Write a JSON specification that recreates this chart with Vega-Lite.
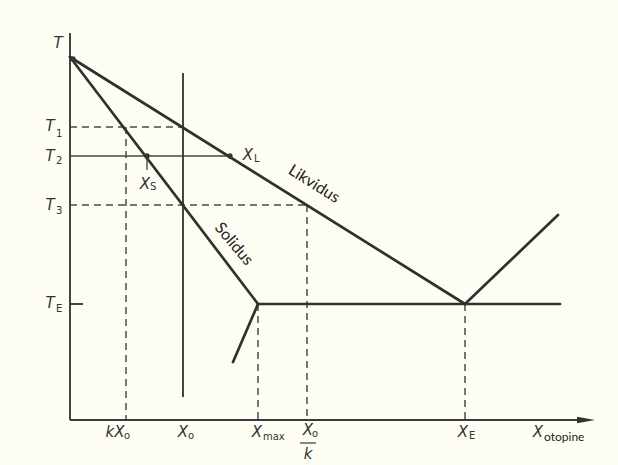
{
  "$schema": "https://vega.github.io/schema/vega-lite/v6.json",
  "width": 525,
  "height": 387,
  "autosize": {"type": "none"},
  "padding": {"left": 70, "top": 33, "right": 23, "bottom": 45},
  "background": "#fdfdf4",
  "config": {"view": {"stroke": null}},
  "datasets": {
    "segs": [
      {"kind": "thick", "x": 0, "y": 363, "x2": 395, "y2": 116},
      {"kind": "thick", "x": 0, "y": 363, "x2": 188, "y2": 116},
      {"kind": "thick", "x": 188, "y": 116, "x2": 490, "y2": 116},
      {"kind": "thick", "x": 395, "y": 116, "x2": 488, "y2": 205},
      {"kind": "thick", "x": 188, "y": 116, "x2": 163, "y2": 58},
      {"kind": "medium", "x": 113, "y": 347, "x2": 113, "y2": 23},
      {"kind": "medium", "x": 0, "y": 387, "x2": 0, "y2": 0},
      {"kind": "medium", "x": 0, "y": 0, "x2": 512, "y2": 0},
      {"kind": "thin", "x": 0, "y": 264, "x2": 160, "y2": 264},
      {"kind": "thin", "x": 77, "y": 264, "x2": 77, "y2": 250},
      {"kind": "medium", "x": 0, "y": 116, "x2": 13, "y2": 116},
      {"kind": "thin", "x": 230, "y": -23, "x2": 246, "y2": -23},
      {"kind": "dash", "x": 0, "y": 293, "x2": 113, "y2": 293},
      {"kind": "dash", "x": 0, "y": 215, "x2": 237, "y2": 215},
      {"kind": "dash", "x": 56, "y": 293, "x2": 56, "y2": 0},
      {"kind": "dash", "x": 188, "y": 116, "x2": 188, "y2": 0},
      {"kind": "dash", "x": 237, "y": 215, "x2": 237, "y2": 0},
      {"kind": "dash", "x": 395, "y": 116, "x2": 395, "y2": 0}
    ],
    "dots": [
      {"x": 160, "y": 264},
      {"x": 77, "y": 264},
      {"x": 3, "y": 361}
    ],
    "arrow": [{"x": 516, "y": 0}],
    "labels": [
      {"role": "main", "x": -12, "y": 377, "text": "T"},
      {"role": "main", "x": -20, "y": 294, "text": "T"},
      {"role": "main", "x": -20, "y": 264, "text": "T"},
      {"role": "main", "x": -20, "y": 215, "text": "T"},
      {"role": "main", "x": -20, "y": 117, "text": "T"},
      {"role": "main", "x": 45, "y": -12, "text": "kX"},
      {"role": "main", "x": 113, "y": -12, "text": "X"},
      {"role": "main", "x": 187, "y": -12, "text": "X"},
      {"role": "main", "x": 238, "y": -10, "text": "X"},
      {"role": "main", "x": 238, "y": -34, "text": "k"},
      {"role": "main", "x": 393, "y": -12, "text": "X"},
      {"role": "main", "x": 468, "y": -12, "text": "X"},
      {"role": "main", "x": 178, "y": 265, "text": "X"},
      {"role": "main", "x": 75, "y": 236, "text": "X"},
      {"role": "sub", "x": -14, "y": 286, "text": "1"},
      {"role": "sub", "x": -14, "y": 259, "text": "2"},
      {"role": "sub", "x": -14, "y": 209, "text": "3"},
      {"role": "sub", "x": -14, "y": 111, "text": "E"},
      {"role": "sub", "x": 54, "y": -16, "text": "o"},
      {"role": "sub", "x": 118, "y": -16, "text": "o"},
      {"role": "sub", "x": 193, "y": -17, "text": "max"},
      {"role": "sub", "x": 242, "y": -14, "text": "o"},
      {"role": "sub", "x": 399, "y": -16, "text": "E"},
      {"role": "sub", "x": 184, "y": 261, "text": "L"},
      {"role": "sub", "x": 80, "y": 233, "text": "S"},
      {"role": "plain", "x": 474, "y": -17, "text": "otopine"},
      {"role": "liq", "x": 244, "y": 236, "text": "Likvidus"},
      {"role": "sol", "x": 164, "y": 176, "text": "Solidus"}
    ]
  },
  "encoding": {
    "x": {"field": "x", "type": "quantitative", "scale": {"domain": [0, 525], "nice": false, "zero": false}, "axis": null},
    "y": {"field": "y", "type": "quantitative", "scale": {"domain": [0, 387], "nice": false, "zero": false}, "axis": null}
  },
  "layer": [
    {
      "data": {"name": "segs"},
      "transform": [{"filter": "datum.kind === 'dash'"}],
      "mark": {"type": "rule", "color": "#4a4a4a", "strokeWidth": 1.5, "strokeDash": [7, 5]},
      "encoding": {"x2": {"field": "x2"}, "y2": {"field": "y2"}}
    },
    {
      "data": {"name": "segs"},
      "transform": [{"filter": "datum.kind === 'thin'"}],
      "mark": {"type": "rule", "color": "#444444", "strokeWidth": 1.3},
      "encoding": {"x2": {"field": "x2"}, "y2": {"field": "y2"}}
    },
    {
      "data": {"name": "segs"},
      "transform": [{"filter": "datum.kind === 'medium'"}],
      "mark": {"type": "rule", "color": "#3a3a3a", "strokeWidth": 1.9},
      "encoding": {"x2": {"field": "x2"}, "y2": {"field": "y2"}}
    },
    {
      "data": {"name": "segs"},
      "transform": [{"filter": "datum.kind === 'thick'"}],
      "mark": {"type": "rule", "color": "#303030", "strokeWidth": 2.7, "strokeCap": "round"},
      "encoding": {"x2": {"field": "x2"}, "y2": {"field": "y2"}}
    },
    {
      "data": {"name": "dots"},
      "mark": {"type": "point", "filled": true, "color": "#333333", "size": 28, "opacity": 1}
    },
    {
      "data": {"name": "arrow"},
      "mark": {"type": "point", "filled": true, "color": "#333333", "opacity": 1, "size": 324, "shape": "M-1,-0.36L1,0L-1,0.36Z"}
    },
    {
      "data": {"name": "labels"},
      "transform": [{"filter": "datum.role === 'main'"}],
      "mark": {"type": "text", "font": "DejaVu Sans", "fontStyle": "italic", "fontSize": 15, "color": "#333333", "align": "center", "baseline": "middle"},
      "encoding": {"text": {"field": "text"}}
    },
    {
      "data": {"name": "labels"},
      "transform": [{"filter": "datum.role === 'sub'"}],
      "mark": {"type": "text", "font": "DejaVu Sans", "fontSize": 10, "color": "#333333", "align": "left", "baseline": "middle"},
      "encoding": {"text": {"field": "text"}}
    },
    {
      "data": {"name": "labels"},
      "transform": [{"filter": "datum.role === 'plain'"}],
      "mark": {"type": "text", "font": "Lato", "fontSize": 12, "color": "#222222", "align": "left", "baseline": "middle"},
      "encoding": {"text": {"field": "text"}}
    },
    {
      "data": {"name": "labels"},
      "transform": [{"filter": "datum.role === 'liq'"}],
      "mark": {"type": "text", "font": "Lato", "fontSize": 16, "color": "#222222", "align": "center", "baseline": "middle", "angle": 32},
      "encoding": {"text": {"field": "text"}}
    },
    {
      "data": {"name": "labels"},
      "transform": [{"filter": "datum.role === 'sol'"}],
      "mark": {"type": "text", "font": "Lato", "fontSize": 16, "color": "#222222", "align": "center", "baseline": "middle", "angle": 50},
      "encoding": {"text": {"field": "text"}}
    }
  ]
}
